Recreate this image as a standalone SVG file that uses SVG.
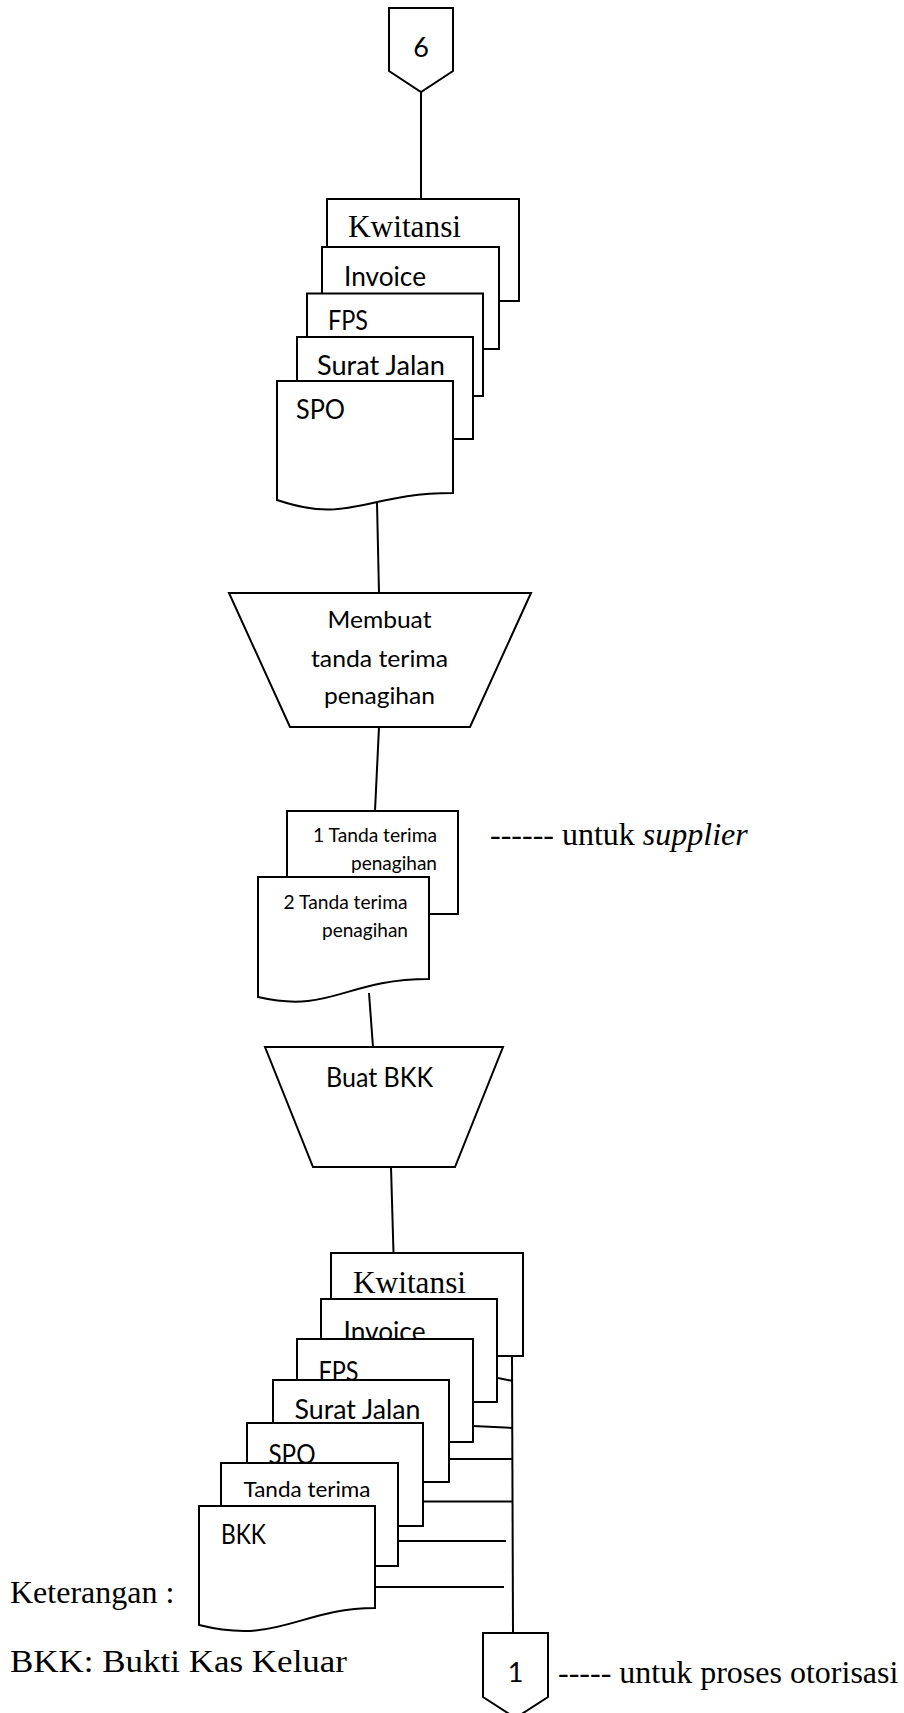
<svg xmlns="http://www.w3.org/2000/svg" width="904" height="1713" viewBox="0 0 904 1713">
<style>
.s{fill:#fff;stroke:#000;stroke-width:2;stroke-linejoin:miter}
.l{fill:none;stroke:#000;stroke-width:2}
.c{font-family:Lato,"Open Sans",sans-serif;fill:#000}
.t{font-family:"Liberation Serif","Times New Roman",serif;fill:#000}
</style>
<rect width="904" height="1713" fill="#fff"/>
<g id="connectors">
<line class="l" x1="421" y1="92" x2="421" y2="199"/>
<line class="l" x1="377" y1="503" x2="379" y2="593"/>
<line class="l" x1="379" y1="727" x2="375" y2="811"/>
<line class="l" x1="369" y1="993" x2="373" y2="1047"/>
<line class="l" x1="391" y1="1167" x2="393.5" y2="1253"/>
</g>
<g id="off-page-6">
<polygon class="s" points="389,8 453,8 453,71 421,92 389,71"/>
<text class="c" x="421" y="57" font-size="27" text-anchor="middle">6</text>
</g>
<g id="docs-top">
<rect class="s" x="327" y="199" width="192" height="102"/>
<text class="t" x="348" y="237" font-size="31" textLength="113" lengthAdjust="spacingAndGlyphs">Kwitansi</text>
<rect class="s" x="322" y="247" width="177" height="102"/>
<text class="c" x="344" y="286" font-size="26" textLength="82" lengthAdjust="spacingAndGlyphs">Invoice</text>
<rect class="s" x="307" y="293.5" width="176" height="102.5"/>
<text class="c" x="328" y="330" font-size="26" textLength="40" lengthAdjust="spacingAndGlyphs">FPS</text>
<rect class="s" x="297" y="337" width="176" height="102"/>
<text class="c" x="317" y="375" font-size="26" textLength="128" lengthAdjust="spacingAndGlyphs">Surat Jalan</text>
<path class="s" d="M277,381 H453 V493 C365,493 350,525 277,500 Z"/>
<text class="c" x="296" y="419" font-size="26" textLength="49" lengthAdjust="spacingAndGlyphs">SPO</text>
</g>
<g id="proc-tanda-terima">
<polygon class="s" points="229,593 531,593 470,727 290,727"/>
<text class="c" x="379.5" y="628" font-size="24" text-anchor="middle" textLength="104" lengthAdjust="spacingAndGlyphs">Membuat</text>
<text class="c" x="379.5" y="666.5" font-size="24" text-anchor="middle" textLength="137" lengthAdjust="spacingAndGlyphs">tanda terima</text>
<text class="c" x="379.5" y="704" font-size="24" text-anchor="middle" textLength="111" lengthAdjust="spacingAndGlyphs">penagihan</text>
</g>
<g id="docs-tanda-terima">
<rect class="s" x="287" y="811" width="171" height="103"/>
<text class="c" x="313" y="841.5" font-size="19" textLength="124" lengthAdjust="spacingAndGlyphs">1 Tanda terima</text>
<text class="c" x="351" y="870" font-size="19" textLength="86" lengthAdjust="spacingAndGlyphs">penagihan</text>
<path class="s" d="M258,877 H429 V979 C345,979 331,1014 258,997 Z"/>
<text class="c" x="283.5" y="908.5" font-size="19" textLength="124" lengthAdjust="spacingAndGlyphs">2 Tanda terima</text>
<text class="c" x="322" y="936.5" font-size="19" textLength="86" lengthAdjust="spacingAndGlyphs">penagihan</text>
</g>
<g id="note-supplier">
<text class="t" x="490" y="845" font-size="32">------ untuk <tspan font-style="italic">supplier</tspan></text>
</g>
<g id="proc-buat-bkk">
<polygon class="s" points="265,1047 503,1047 455,1167 313,1167"/>
<text class="c" x="326" y="1087" font-size="27" textLength="107" lengthAdjust="spacingAndGlyphs">Buat BKK</text>
</g>
<g id="docs-bottom">
<rect class="s" x="331" y="1253" width="192" height="103"/>
<text class="t" x="353" y="1293" font-size="31" textLength="113" lengthAdjust="spacingAndGlyphs">Kwitansi</text>
<rect class="s" x="321" y="1299" width="176" height="103"/>
<text class="c" x="343.5" y="1341" font-size="26" textLength="82" lengthAdjust="spacingAndGlyphs">Invoice</text>
<rect class="s" x="297" y="1339" width="176" height="103"/>
<text class="c" x="318.5" y="1381" font-size="26" textLength="40" lengthAdjust="spacingAndGlyphs">FPS</text>
<rect class="s" x="273" y="1380" width="176" height="102"/>
<text class="c" x="294.5" y="1418.5" font-size="26" textLength="126" lengthAdjust="spacingAndGlyphs">Surat Jalan</text>
<rect class="s" x="247" y="1423" width="176" height="103"/>
<text class="c" x="268.5" y="1463.5" font-size="26" textLength="47" lengthAdjust="spacingAndGlyphs">SPO</text>
<rect class="s" x="221" y="1463" width="177" height="103"/>
<text class="c" x="243.5" y="1497" font-size="21" textLength="127" lengthAdjust="spacingAndGlyphs">Tanda terima</text>
<path class="s" d="M199,1506 H375 V1608 C300,1608 280,1645 199,1625 Z"/>
<text class="c" x="221" y="1544" font-size="26" textLength="45" lengthAdjust="spacingAndGlyphs">BKK</text>
</g>
<g id="bus">
<line class="l" x1="512" y1="1357" x2="513" y2="1633"/>
<line class="l" x1="498" y1="1378" x2="513" y2="1381"/>
<line class="l" x1="473" y1="1426" x2="513" y2="1428"/>
<line class="l" x1="449" y1="1459" x2="512" y2="1459"/>
<line class="l" x1="423" y1="1501.5" x2="512" y2="1501.5"/>
<line class="l" x1="398" y1="1541" x2="506" y2="1541"/>
<line class="l" x1="375" y1="1587" x2="504" y2="1587"/>
</g>
<g id="off-page-1">
<polygon class="s" points="483,1633 548,1633 548,1697 515.5,1718 483,1697"/>
<text class="c" x="515.5" y="1682" font-size="27" text-anchor="middle">1</text>
</g>
<g id="note-otorisasi">
<text class="t" x="558" y="1683" font-size="32">----- untuk proses otorisasi</text>
</g>
<g id="legend">
<text class="t" x="10" y="1603" font-size="32">Keterangan :</text>
<text class="t" x="10" y="1672" font-size="32" textLength="337" lengthAdjust="spacingAndGlyphs">BKK: Bukti Kas Keluar</text>
</g>
</svg>
